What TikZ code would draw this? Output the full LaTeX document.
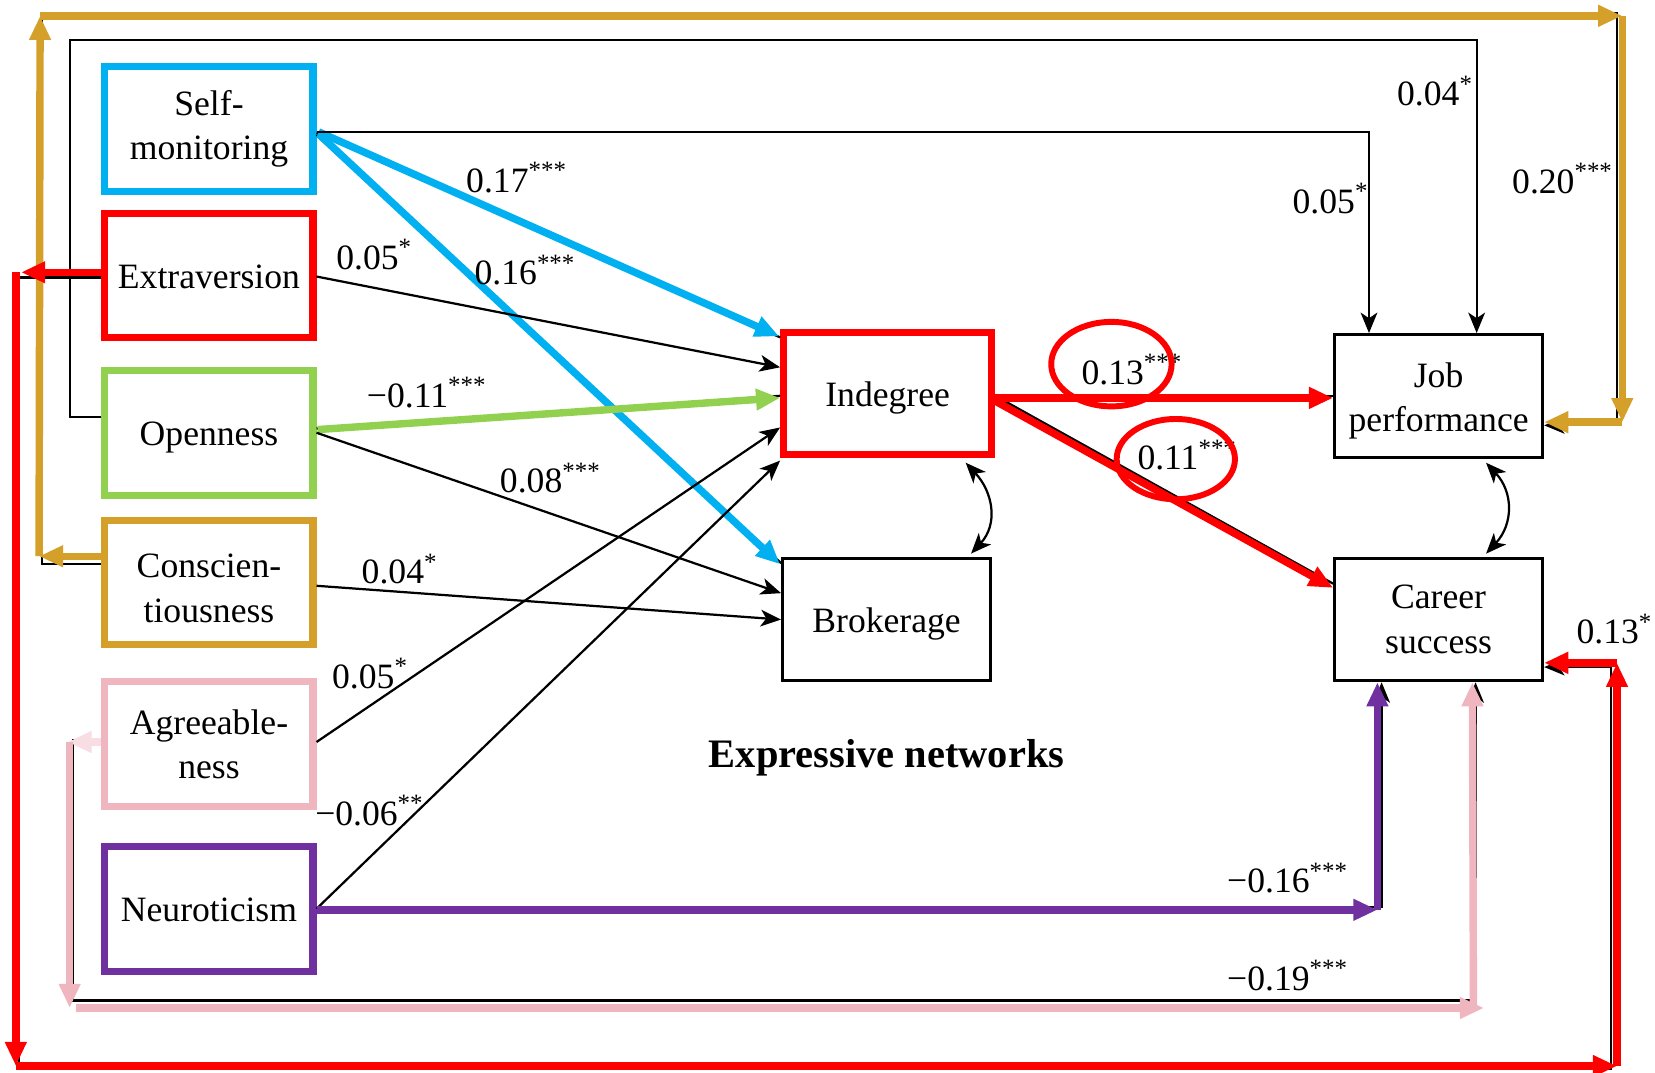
\documentclass[tikz,border=0pt]{standalone}
\usepackage{fontspec}
\setmainfont{Liberation Serif}
\usetikzlibrary{arrows.meta,calc}

\definecolor{cblue}{HTML}{00B0F0}
\definecolor{cred}{HTML}{FF0000}
\definecolor{cgreen}{HTML}{92D050}
\definecolor{cgold}{HTML}{D4A02A}
\definecolor{cpink}{HTML}{EFB6C0}
\definecolor{cpinklight}{HTML}{F8DDE2}
\definecolor{cpurple}{HTML}{7030A0}

\newcommand\pcoef[2]{#1\textsuperscript{#2}}

\begin{document}
\begin{tikzpicture}[x=0.01cm,y=-0.01cm,
  box/.style={draw, line width=0.8pt, minimum width=1.97cm, minimum height=1.16cm,
    align=center, inner sep=0pt, font=\fontsize{9.6}{12}\selectfont},
  cbox/.style={box, draw=#1, line width=1.9pt, minimum height=1.18cm},
  oneline/.style={text height=0.7em, text depth=0pt},
  lowered/.style={text height=21.5pt},
  lbl/.style={anchor=base west, inner sep=0pt, font=\fontsize{9.6}{12}\selectfont},
  blk/.style={line width=0.6pt, -{Stealth[length=5.5pt,width=4.5pt,inset=1.5pt]}},
  blkline/.style={line width=0.6pt},
  col/.style={line width=2pt, draw=#1, -{Triangle[length=6.5pt,width=5.5pt,fill=#1]}},
  ring/.style={draw=cred, line width=1.6pt}
]
\useasboundingbox (0,0) rectangle (1568,1016);

% ---- predictor boxes ----
\node[cbox=cblue]            (sm)    at (198,122) {Self-\\monitoring};
\node[cbox=cred, oneline]    (ext)   at (198,261) {Extraversion};
\node[cbox=cgreen, oneline]  (open)  at (198,410) {Openness};
\node[cbox=cgold, lowered]   (consc) at (198,552) {Conscien-\\tiousness};
\node[cbox=cpink]            (agree) at (198,705) {Agreeable-\\ness};
\node[cbox=cpurple, oneline] (neur)  at (198,861) {Neuroticism};

% ---- network and outcome boxes ----
\node[cbox=cred, oneline, minimum height=1.16cm] (ind) at (841,373) {Indegree};
\node[box, oneline] (bro) at (840,587) {Brokerage};
\node[box, lowered] (jp)  at (1363,375) {Job\\performance};
\node[box] (cs)  at (1363,587) {Career\\success};

\node[font=\bfseries\fontsize{10.9}{13}\selectfont] (title) at (840,718) {Expressive networks};

% ---- corner points of the long routed paths ----
\coordinate (gL)  at (37,527);
\coordinate (gTL) at (38,15);
\coordinate (gTR) at (1537,15);
\coordinate (gR)  at (1537,400);
\coordinate (rL)  at (15,258);
\coordinate (rBL) at (15,1010);
\coordinate (rBR) at (1532,1010);
\coordinate (rR)  at (1532,628);
\coordinate (pL)  at (64,703);
\coordinate (pBL) at (66,955);
\coordinate (pBR) at (1396,955);
\coordinate (uR)  at (1305,862);

% ---- black paths underneath ----
\draw[blkline] ($(sm.east)+(0,4)$) -- ($(ind.north west)+(0,8)$);
\draw[blkline] ($(sm.east)+(0,6)$) -- ($(bro.north west)+(0,6)$);
\draw[blkline] ($(open.east)+(0,-4)$) -- ($(ind.west)+(0,2)$);
\draw[blkline] ($(ind.east)+(0,2)$) -- ($(jp.west)+(0,0)$);
\draw[blkline] ($(ind.east)+(0,2)$) -- ($(cs.west)+(0,-34)$);
\draw[blk] ($(consc.west)+(0,-18)$) -| (40,12) -| (1532,403) -- ($(jp.east)+(0,28)$);
\draw[blk] ($(ext.west)+(0,2)$) -| (18,1013) -| (1526,632) -- ($(cs.east)+(0,45)$);
\draw[blk] ($(agree.west)+(0,-4)$) -| (69,948) -| ($(cs.south)+(35,0)$);
\draw[blk] ($(neur.east)+(0,-2)$) -| ($(cs.south)+(-54,0)$);

% ---- personality to networks ----
\draw[col=cblue] ($(sm.east)+(2,3)$) -- ($(ind.north west)+(-1,7)$);
\draw[col=cblue] ($(sm.east)+(2,5)$) -- ($(bro.north west)+(-1,7)$);
\draw[blk] ($(ext.east)+(0,1)$) -- ($(ind.west)+(0,-25)$);
\draw[col=cgreen] ($(open.east)+(1,-3)$) -- ($(ind.west)+(0,4)$);
\draw[blk] ($(open.east)+(0,0)$) -- ($(bro.west)+(0,-25)$);
\draw[blk] ($(consc.east)+(0,3)$) -- ($(bro.west)+(0,0)$);
\draw[blk] ($(agree.east)+(0,-2)$) -- ($(ind.west)+(0,32)$);
\draw[blk] ($(neur.east)+(0,0)$) -- ($(ind.south west)+(0,2)$);

% ---- networks to outcomes ----
\draw[col=cred] ($(ind.east)+(0,4)$) -- ($(jp.west)+(0,2)$);
\draw[col=cred] ($(ind.east)+(0,7)$) -- ($(cs.west)+(0,-30)$);

% ---- direct paths to job performance ----
\draw[blk] ($(sm.east)+(0,3)$) -| ($(jp.north west)+(34,0)$);
\draw[blk] ($(open.west)+(0,-15)$) -| (66,38) -| ($(jp.north west)+(136,0)$);

% ---- conscientiousness to job performance ----
\draw[col=cgold] ($(consc.west)+(0,-25)$) -- (gL);
\draw[col=cgold] (gL) -- (gTL);
\draw[col=cgold] (gTL) -- (gTR);
\draw[col=cgold] (gTR) -- (gR);
\draw[col=cgold] (gR) -- ($(jp.east)+(0,25)$);

% ---- extraversion to career success ----
\draw[col=cred] ($(ext.west)+(0,-3)$) -- ($(rL)+(5,0)$);
\draw[col=cred] (rL) -- (rBL);
\draw[col=cred] (rBL) -- (rBR);
\draw[col=cred] (rBR) -- (rR);
\draw[col=cred] (rR) -- ($(cs.east)+(0,41)$);

% ---- agreeableness to career success ----
\draw[col=cpinklight] ($(agree.west)+(0,-2)$) -- (pL);
\draw[col=cpink] (66,703) -- (pBL);
\draw[col=cpink] ($(pBL)+(6,0)$) -- ($(pBR)+(10,0)$);
\draw[col=cpink] (pBR) -- ($(cs.south)+(32,0)$);

% ---- neuroticism to career success ----
\draw[col=cpurple] ($(neur.east)+(0,1)$) -- (uR);
\draw[col=cpurple] (uR) -- ($(cs.south)+(-58,0)$);

% ---- covariances ----
\draw[blkline, {Stealth[length=5.5pt,width=4.5pt,inset=1.5pt]}-{Stealth[length=5.5pt,width=4.5pt,inset=1.5pt]}]
  ($(ind.south east)+(-28,4)$) .. controls +(26,28) and +(26,-28) .. ($(bro.north east)+(-20,-3)$);
\draw[blkline, {Stealth[length=5.5pt,width=4.5pt,inset=1.5pt]}-{Stealth[length=5.5pt,width=4.5pt,inset=1.5pt]}]
  ($(jp.south east)+(-55,4)$) .. controls +(26,28) and +(26,-28) .. ($(cs.north east)+(-55,-3)$);

% ---- coefficients ----
\node[lbl] (l1)  at (441,182)  {\pcoef{0.17}{***}};
\node[lbl] (l2)  at (449,270)  {\pcoef{0.16}{***}};
\node[lbl] (l3)  at (318,255)  {\pcoef{0.05}{*}};
\node[lbl] (l4)  at (347,386)  {\pcoef{−0.11}{***}};
\node[lbl] (l5)  at (473,467)  {\pcoef{0.08}{***}};
\node[lbl] (l6)  at (342,553)  {\pcoef{0.04}{*}};
\node[lbl] (l7)  at (314,652)  {\pcoef{0.05}{*}};
\node[lbl] (l8)  at (298,782)  {\pcoef{−0.06}{**}};
\node[lbl] (l9)  at (1323,100) {\pcoef{0.04}{*}};
\node[lbl] (l10) at (1224,202) {\pcoef{0.05}{*}};
\node[lbl] (l11) at (1432,183) {\pcoef{0.20}{***}};
\node[lbl] (l12) at (1024,364) {\pcoef{0.13}{***}};
\node[lbl] (l13) at (1077,445) {\pcoef{0.11}{***}};
\node[lbl] (l14) at (1493,610) {\pcoef{0.13}{*}};
\node[lbl] (l15) at (1162,846) {\pcoef{−0.16}{***}};
\node[lbl] (l16) at (1162,938) {\pcoef{−0.19}{***}};

% ---- highlight rings ----
\draw[ring] (1053,345) ellipse [x radius=0.57cm, y radius=0.40cm];
\draw[ring] (1114,435) ellipse [x radius=0.56cm, y radius=0.38cm];
\end{tikzpicture}
\end{document}
